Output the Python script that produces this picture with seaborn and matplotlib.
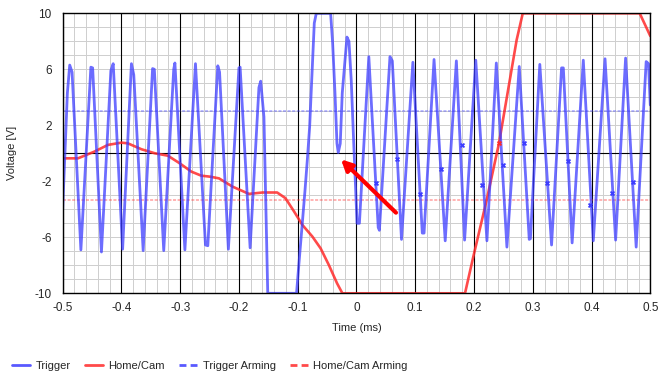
import numpy as np
import matplotlib
matplotlib.use("Agg")
import matplotlib.pyplot as plt
from matplotlib.lines import Line2D
from matplotlib.ticker import MultipleLocator
import seaborn as sns

# Trigger signal (time in ms, voltage in V)
trig_t = [-0.500, -0.492, -0.488, -0.484, -0.469, -0.452, -0.449, -0.434, -0.418, -0.414,
          -0.398, -0.383, -0.379, -0.363, -0.347, -0.344, -0.328, -0.311, -0.309,
          -0.292, -0.274, -0.257, -0.253, -0.236, -0.233, -0.218, -0.200, -0.198,
          -0.181, -0.166, -0.163, -0.1575, -0.151, -0.102, -0.0979, -0.0922,
          -0.0877, -0.0837, -0.0797, -0.0763, -0.0718, -0.0684, -0.044, -0.0406,
          -0.0366, -0.0332, -0.031, -0.0276, -0.0242, -0.0162, -0.0128, -0.0089,
          -0.0049, 0.001, 0.005, 0.021, 0.037, 0.039, 0.057, 0.061, 0.0766, 0.096,
          0.112, 0.115, 0.132, 0.151, 0.170, 0.184, 0.203, 0.222, 0.238, 0.256,
          0.277, 0.294, 0.296, 0.312, 0.332, 0.349, 0.352, 0.367, 0.386, 0.403,
          0.423, 0.441, 0.458, 0.476, 0.493, 0.497, 0.500]
trig_v = [-4.0, 4.3, 6.3, 5.8, -6.9, 6.15, 6.1, -7.05, 5.9, 6.4,
          -6.85, 6.4, 5.6, -6.95, 6.05, 6.0, -6.95, 6.0, 6.45,
          -6.9, 6.4, -6.55, -6.6, 6.25, 5.8, -6.85, 6.1, 6.15,
          -6.75, 4.7, 5.15, 2.6, -10.0, -10.0, -7.86, -5.0,
          -2.7, -0.5, 1.9, 5.1, 9.3, 10.0, 10.0, 7.9,
          4.3, 0.7, 0.05, 0.7, 4.3, 8.3, 8.0, 5.2,
          0.95, -5.0, -5.0, 6.9, -5.3, -5.5, 6.9, 6.6, -6.15, 6.5,
          -5.7, -5.7, 6.7, -6.25, 6.6, -6.2, 6.65, -6.25, 6.45, -6.7,
          6.2, -6.15, -6.1, 6.35, -6.55, 6.1, 6.1, -6.4, 6.65, -6.25,
          6.75, -6.2, 6.8, -6.7, 6.55, 6.4, 3.45]

# Home/Cam signal
cam_t = [-0.500, -0.474, -0.446, -0.423, -0.400, -0.389, -0.366, -0.343, -0.321,
         -0.301, -0.281, -0.264, -0.249, -0.234, -0.211, -0.183, -0.160, -0.135,
         -0.121, -0.106, -0.092, -0.075, -0.061, -0.047, -0.033, -0.024, 0.1847,
         0.1988, 0.2216, 0.2425, 0.2726, 0.283, 0.482, 0.500]
cam_v = [-0.36, -0.36, 0.12, 0.6, 0.76, 0.71, 0.29, 0.0, -0.17,
         -0.71, -1.31, -1.6, -1.67, -1.79, -2.38, -2.9, -2.8, -2.8,
         -3.2, -4.17, -5.12, -5.95, -6.79, -7.98, -9.29, -10.0, -10.0,
         -7.39, -3.33, 0.71, 8.1, 10.0, 10.0, 8.38]

# event markers on the curves
trig_mark_t = [0.0335, 0.0686, 0.108, 0.143, 0.179, 0.214, 0.2495, 0.285,
               0.324, 0.360, 0.398, 0.434, 0.470]
trig_mark_v = [-2.14, -0.4, -2.88, -1.12, 0.62, -2.26, -0.86, 0.71,
               -2.12, -0.55, -3.69, -2.86, -2.05]
cam_mark_t = [0.2425]
cam_mark_v = [0.71]

trigger_arming = 3.0
cam_arming = -3.35

arrow_head = (-0.0264, -0.43)
arrow_tail = (0.0672, -4.24)

x_ticks = [-0.5, -0.4, -0.3, -0.2, -0.1, 0.0, 0.1, 0.2, 0.3, 0.4, 0.5]
x_tick_labels = ["-0.5", "-0.4", "-0.3", "-0.2", "-0.1", "0",
                 "0.1", "0.2", "0.3", "0.4", "0.5"]
y_ticks = [-10, -6, -2, 2, 6, 10]
legend_labels = ["Trigger", "Home/Cam", "Trigger Arming", "Home/Cam Arming"]

BLUE = "#3c3cff"
RED = "#ff2a2a"

sns.set_style("white")
plt.rcParams["font.family"] = ["Liberation Sans", "DejaVu Sans"]
plt.rcParams["font.size"] = 8
plt.rcParams["axes.unicode_minus"] = False

fig = plt.figure(figsize=(6.66, 3.83), dpi=100)
ax = fig.add_axes([0.0941, 0.2342, 0.8823, 0.7311])

# light grid every 0.02 ms / 1 V, black lines at the major time ticks and 0 V
ax.xaxis.set_minor_locator(MultipleLocator(0.02))
ax.yaxis.set_minor_locator(MultipleLocator(1))
ax.grid(which="both", color="#cfcfcf", lw=0.72, zorder=0)
for xt in x_ticks:
    ax.axvline(xt, color="black", lw=0.8, zorder=1)
ax.axhline(0, color="black", lw=0.8, zorder=1)
ax.set_axisbelow(True)

ax.axhline(trigger_arming, color=BLUE, lw=1.1, ls=(0, (2, 1)), alpha=0.45, zorder=2)
ax.axhline(cam_arming, color=RED, lw=1.1, ls=(0, (2, 1)), alpha=0.45, zorder=2)

sns.lineplot(x=cam_t, y=cam_v, ax=ax, color=RED, lw=1.9, alpha=0.85,
             estimator=None, sort=False, zorder=3)
sns.lineplot(x=trig_t, y=trig_v, ax=ax, color=BLUE, lw=2.0, alpha=0.75,
             estimator=None, sort=False, zorder=4)
ax.scatter(trig_mark_t, trig_mark_v, marker="X", s=14, color=BLUE,
           linewidths=0, zorder=5)
ax.scatter(cam_mark_t, cam_mark_v, marker="X", s=14, color=RED,
           linewidths=0, zorder=5)

ax.annotate("", xy=arrow_head, xytext=arrow_tail,
            arrowprops=dict(arrowstyle="-|>", color="red", lw=3,
                            mutation_scale=16, shrinkA=0, shrinkB=0),
            zorder=6)

ax.set_xlim(-0.5, 0.5)
ax.set_ylim(-10, 10)
ax.set_xticks(x_ticks)
ax.set_xticklabels(x_tick_labels)
ax.set_yticks(y_ticks)
ax.tick_params(axis="x", which="major", length=4, width=1, color="black",
               pad=2, labelsize=8.5)
ax.tick_params(axis="y", which="major", length=6, width=1, color="black",
               pad=2, labelsize=8.5)
ax.tick_params(which="minor", length=0)
for s in ax.spines.values():
    s.set_color("black")
    s.set_linewidth(1)
    s.set_zorder(6)

ax.set_xlabel("Time (ms)", labelpad=7)
ax.set_ylabel("Voltage [V]")
ax.yaxis.set_label_coords(-0.078, 0.5)

handles = [
    Line2D([], [], color=BLUE, lw=2, alpha=0.85),
    Line2D([], [], color=RED, lw=2, alpha=0.85),
    Line2D([], [], color=BLUE, lw=2, ls=(0, (2.5, 1.5)), alpha=0.85),
    Line2D([], [], color=RED, lw=2, ls=(0, (2.5, 1.5)), alpha=0.85),
]
fig.legend(handles, legend_labels, loc="center left",
           bbox_to_anchor=(0.018, 1 - 366 / 383), ncol=4, frameon=False,
           borderpad=0, borderaxespad=0, handlelength=1.6,
           handletextpad=0.5, columnspacing=1.3, fontsize=8)

fig.savefig("out.png", dpi=100)
